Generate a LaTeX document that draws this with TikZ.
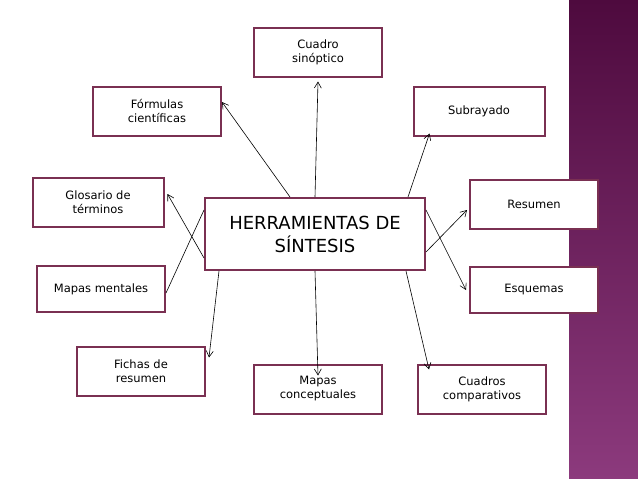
\documentclass[tikz,border=0pt]{standalone}
\usepackage{fontspec}
\setmainfont{DejaVu Sans}
\usetikzlibrary{arrows.meta}
\definecolor{boxrim}{RGB}{122,48,82}
\definecolor{stripetop}{RGB}{78,10,62}
\definecolor{stripebot}{RGB}{140,58,125}
\begin{document}
\begin{tikzpicture}[x=1pt,y=-1pt,>={Straight Barb[length=6pt,width=7pt]},
  tool/.style={draw=boxrim,fill=white,line width=2pt,minimum width=128pt,minimum height=49pt,align=center,font=\fontsize{11.5}{14}\selectfont,inner sep=2pt},
  link/.style={->,semithick}]
  \useasboundingbox (0,0) rectangle (638,479);
  \shade[top color=stripetop,bottom color=stripebot] (569,0) rectangle (638,479);
  \node[tool,minimum width=220pt,minimum height=72pt,font=\fontsize{18}{23}\selectfont] (c) at (315,234) {HERRAMIENTAS DE\\SÍNTESIS};
  \node[tool] (sin) at (318,52) {Cuadro\\sinóptico};
  \node[tool] (for) at (157,111) {Fórmulas\\científicas};
  \node[tool,minimum width=131pt] (sub) at (479,111) {Subrayado};
  \node[tool,minimum width=131pt] (glo) at (98,202) {Glosario de\\términos};
  \node[tool] (res) at (534,204) {Resumen};
  \node[tool,minimum height=46pt] (mme) at (101,289) {Mapas mentales};
  \node[tool,minimum height=46pt] (esq) at (534,290) {Esquemas};
  \node[tool] (fic) at (141,371) {Fichas de\\resumen};
  \node[tool] (mco) at (318,389) {Mapas\\conceptuales};
  \node[tool] (cco) at (482,389) {Cuadros\\comparativos};
  \coordinate (forend) at ([yshift=9]for.east);
  \coordinate (subend) at ([xshift=17,yshift=3]sub.south west);
  \coordinate (gloend) at ([xshift=3,yshift=8]glo.east);
  \coordinate (resend) at ([xshift=-2,yshift=-6]res.west);
  \coordinate (esqend) at ([xshift=-3]esq.west);
  \coordinate (ficend) at ([xshift=3,yshift=-12]fic.north east);
  \coordinate (ccoend) at ([xshift=12,yshift=-6]cco.north west);
  \draw[link] ([xshift=-25]c.north) -- (forend);
  \draw[link] (c.north) -- ([yshift=-4]sin.south);
  \draw[link] ([xshift=-18]c.north east) -- (subend);
  \draw[link] ([yshift=-24]c.west) -- (gloend);
  \draw[link] ([yshift=-18]c.east) -- (resend);
  \draw[semithick] ([yshift=24]c.west) -- ([yshift=-4]mme.east);
  \draw[link] ([yshift=24]c.east) -- (esqend);
  \draw[link] ([xshift=15]c.south west) -- (ficend);
  \draw[link] (c.south) -- ([yshift=-12]mco.north);
  \draw[link] ([xshift=-20]c.south east) -- (ccoend);
\end{tikzpicture}
\end{document}
